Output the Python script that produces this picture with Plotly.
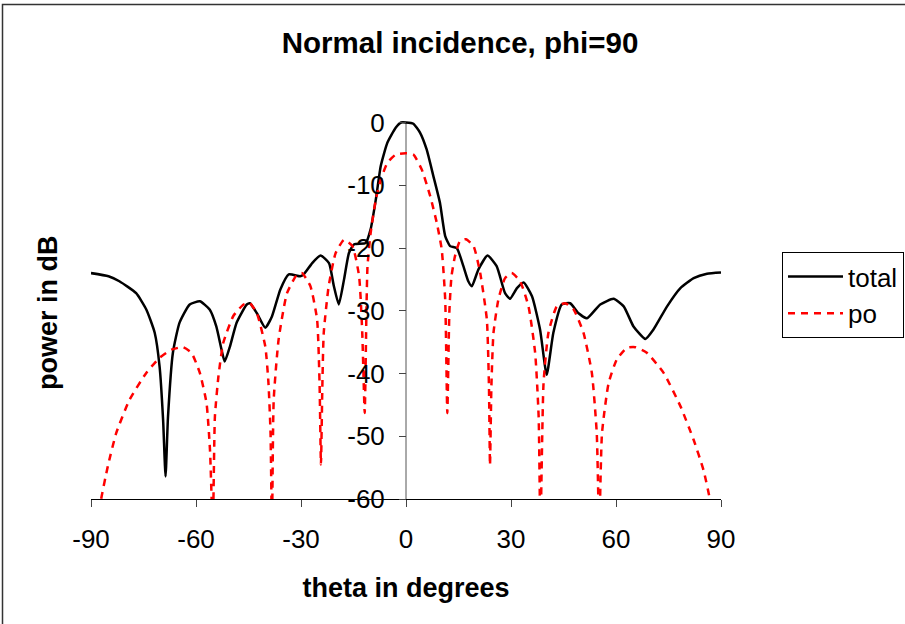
import plotly.graph_objects as go

# ---- data ----
theta_total = [-90, -85, -81.9, -77.1, -74.2, -71.8, -70.4, -69.4, -68.7, -68.0, -66.6, -64.7,
               -61.8, -58.9, -56.1, -54.2, -52.7, -51.8, -50.3, -48.4, -45.5, -44.6, -42.6,
               -40.2, -38.3, -35.9, -33.5, -30.2, -29.2, -26.8, -24.4, -22.0, -20.6, -19.2,
               -17.7, -16.3, -14.8, -11.5, -10.1, -8.6, -7.2, -5.3, -2.9, -1.4, 0,
               2.1, 4.0, 5.9, 7.8, 9.7, 11.2, 12.6, 14.5, 16.4, 17.8, 18.8, 20.7, 23.3,
               25.9, 28.3, 29.7, 31.7, 33.6, 36.0, 38.3, 40.2, 42.1, 44.5, 46.9, 49.3,
               51.7, 55.5, 59.3, 62.2, 65.0, 68.4, 70.7, 74.6, 78.4, 82.2, 86.0, 90]
power_total = [-24.0, -24.5, -25.3, -27.2, -29.8, -33.5, -38.9, -47.4, -56.4, -46.9, -36.7, -31.9,
               -29.0, -28.5, -29.8, -32.5, -36.2, -38.1, -35.7, -31.9, -29.0, -28.8, -30.4,
               -32.7, -30.9, -26.6, -24.2, -24.5, -24.2, -22.4, -21.2, -22.4, -26.1, -29.0,
               -25.0, -20.8, -19.4, -19.2, -17.0, -12.2, -6.9, -3.2, -0.8, 0.0, 0.0,
               -0.2, -1.6, -4.3, -8.5, -12.8, -18.1, -19.7, -20.0, -22.9, -25.3, -26.1, -23.4, -21.2,
               -22.9, -27.2, -28.1, -26.4, -25.5, -27.7, -33.0, -40.2, -33.5, -29.0, -28.8, -30.4,
               -31.2, -29.0, -28.1, -29.3, -32.5, -34.5, -33.0, -29.3, -26.4, -24.8, -24.1, -23.9]

theta_po = [-87.5, -87.1, -85.2, -82.8, -79.0, -74.2, -70.4, -67.0, -63.7, -61.3, -58.9, -57.0,
            -56.0, -55.2, -54.6, -53.6, -52.2, -49.3, -46.4, -44.6, -42.6, -40.2, -39.3, -38.7,
            -38.3, -37.8, -36.4, -34.0, -31.1, -29.7, -27.3, -25.4, -24.7, -24.3, -23.9, -23.5,
            -22.1, -20.1, -17.7, -15.3, -13.4, -12.5, -11.8, -11.3, -11.0, -10.1, -8.6, -7.2,
            -5.3, -2.9, 0, 2.1, 4.5, 6.9, 8.8, 10.2, 11.2, 11.8, 12.4, 13.0, 14.0, 15.4, 17.1,
            19.3, 21.2, 23.1, 23.7, 24.0, 24.4, 25.0, 26.4, 28.3, 30.2, 32.6, 35.0, 36.9, 37.9,
            38.4, 39.3, 40.7, 43.1, 45.5, 47.9, 50.7, 53.1, 54.5, 55.2, 56.0, 57.9, 60.2, 63.1,
            65.5, 68.8, 73.6, 78.4, 82.2, 85.0, 86.8, 87.2]
power_po = [-62, -60, -54.8, -49.5, -44.2, -39.9, -37.5, -36.2, -35.8, -36.7, -39.9, -44.7,
            -52.2, -65, -46.9, -40.5, -35.1, -30.8, -29.0, -28.8, -30.4, -35.7, -41.5, -49.5,
            -65, -44.2, -34.6, -27.2, -24.2, -24.0, -26.1, -31.4, -41.5, -54.5, -42.0, -33.5,
            -26.1, -20.8, -18.7, -19.7, -24.5, -33.5, -46.3, -30.0, -22.9, -17.6, -12.2, -9.1,
            -6.4, -5.1, -4.9, -5.1, -7.5, -11.7, -16.0, -20.2, -28.2, -46.3, -30.0, -24.5, -21.3, -18.9, -18.6,
            -19.7, -24.0, -31.4, -42.0, -54.6, -42.0, -33.5, -28.2, -24.8, -24.0, -25.3, -29.3, -36.7, -46.9,
            -65, -41.5, -33.5, -29.3, -28.8, -29.8, -33.5, -39.9, -49.5, -65, -49.5, -41.5, -37.8, -35.9,
            -35.8, -36.7, -39.9, -45.2, -50.6, -55.4, -60, -62]

x_ticks = [-90, -60, -30, 0, 30, 60, 90]
y_ticks = [0, -10, -20, -30, -40, -50, -60]

FONT = "Liberation Sans, Arial, sans-serif"
W, H = 905, 624
ML, MT = 91, 120
PW, PH = 630, 379
MR, MB = W - ML - PW, H - MT - PH


def px(xpix):
    return (xpix - ML) / PW


def py(ypix):
    return (H - MB - ypix) / PH


fig = go.Figure()
fig.add_trace(go.Scatter(x=theta_total, y=power_total, mode="lines", name="total",
                         line=dict(color="#000000", width=2.5, shape="spline", smoothing=0.5)))
fig.add_trace(go.Scatter(x=theta_po, y=power_po, mode="lines", name="po",
                         line=dict(color="#FF0000", width=2.5, dash="7px,6px",
                                   shape="spline", smoothing=0.5)))

fig.update_layout(
    width=W, height=H,
    margin=dict(l=ML, r=MR, t=MT, b=MB, pad=0, autoexpand=False),
    paper_bgcolor="white", plot_bgcolor="white",
    font=dict(family=FONT, color="black", size=26),
    title=dict(text="<b>Normal incidence, phi=90</b>", font=dict(size=29.5, family=FONT),
               x=460 / W, xanchor="center", xref="container",
               y=1 - 43 / H, yanchor="middle", yref="container"),
    xaxis=dict(range=[-90, 90], tickvals=x_ticks, ticktext=[str(v) for v in x_ticks],
               showgrid=False, zeroline=False, showline=True, linecolor="black", linewidth=1,
               ticks="outside", ticklen=7, tickcolor="#444", tickwidth=1,
               tickfont=dict(size=26), ticklabelstandoff=10,
               title=dict(text="<b>theta in degrees</b>", font=dict(size=27), standoff=24)),
    yaxis=dict(range=[-60, 0.4], tickvals=y_ticks, ticktext=[str(v) for v in y_ticks],
               anchor="free", position=0.5, showgrid=False, zeroline=False, showline=False,
               ticks="outside", ticklen=7, tickcolor="#444", tickwidth=1,
               tickfont=dict(size=26), ticklabelstandoff=9),
    yaxis2=dict(range=[-60, 0.4], tickvals=y_ticks, overlaying="y", anchor="free",
                position=0.5, side="right", showgrid=False, zeroline=False, showline=False,
                ticks="outside", ticklen=6, tickcolor="#444", tickwidth=1,
                showticklabels=False),
    showlegend=True,
    legend=dict(x=px(782), y=py(252), xanchor="left", yanchor="top",
                bordercolor="black", borderwidth=1, bgcolor="white",
                font=dict(size=26), tracegroupgap=0, itemwidth=55),
    shapes=[
        dict(type="line", xref="x", yref="y", x0=0, x1=0, y0=-60, y1=0,
             line=dict(color="#555", width=1), layer="below"),
        dict(type="rect", xref="paper", yref="paper", x0=px(2.5), x1=px(1100),
             y0=py(1000), y1=py(4.5), line=dict(color="#333", width=1.5)),
    ],
    annotations=[
        dict(text="<b>power in dB</b>", textangle=-90, xref="paper", yref="paper",
             x=px(48), y=py(313), xanchor="center", yanchor="middle", showarrow=False,
             font=dict(size=27)),
    ],
)

fig.write_html("out.html", config={"displayModeBar": False},
               post_script="document.body.style.margin='0';")
